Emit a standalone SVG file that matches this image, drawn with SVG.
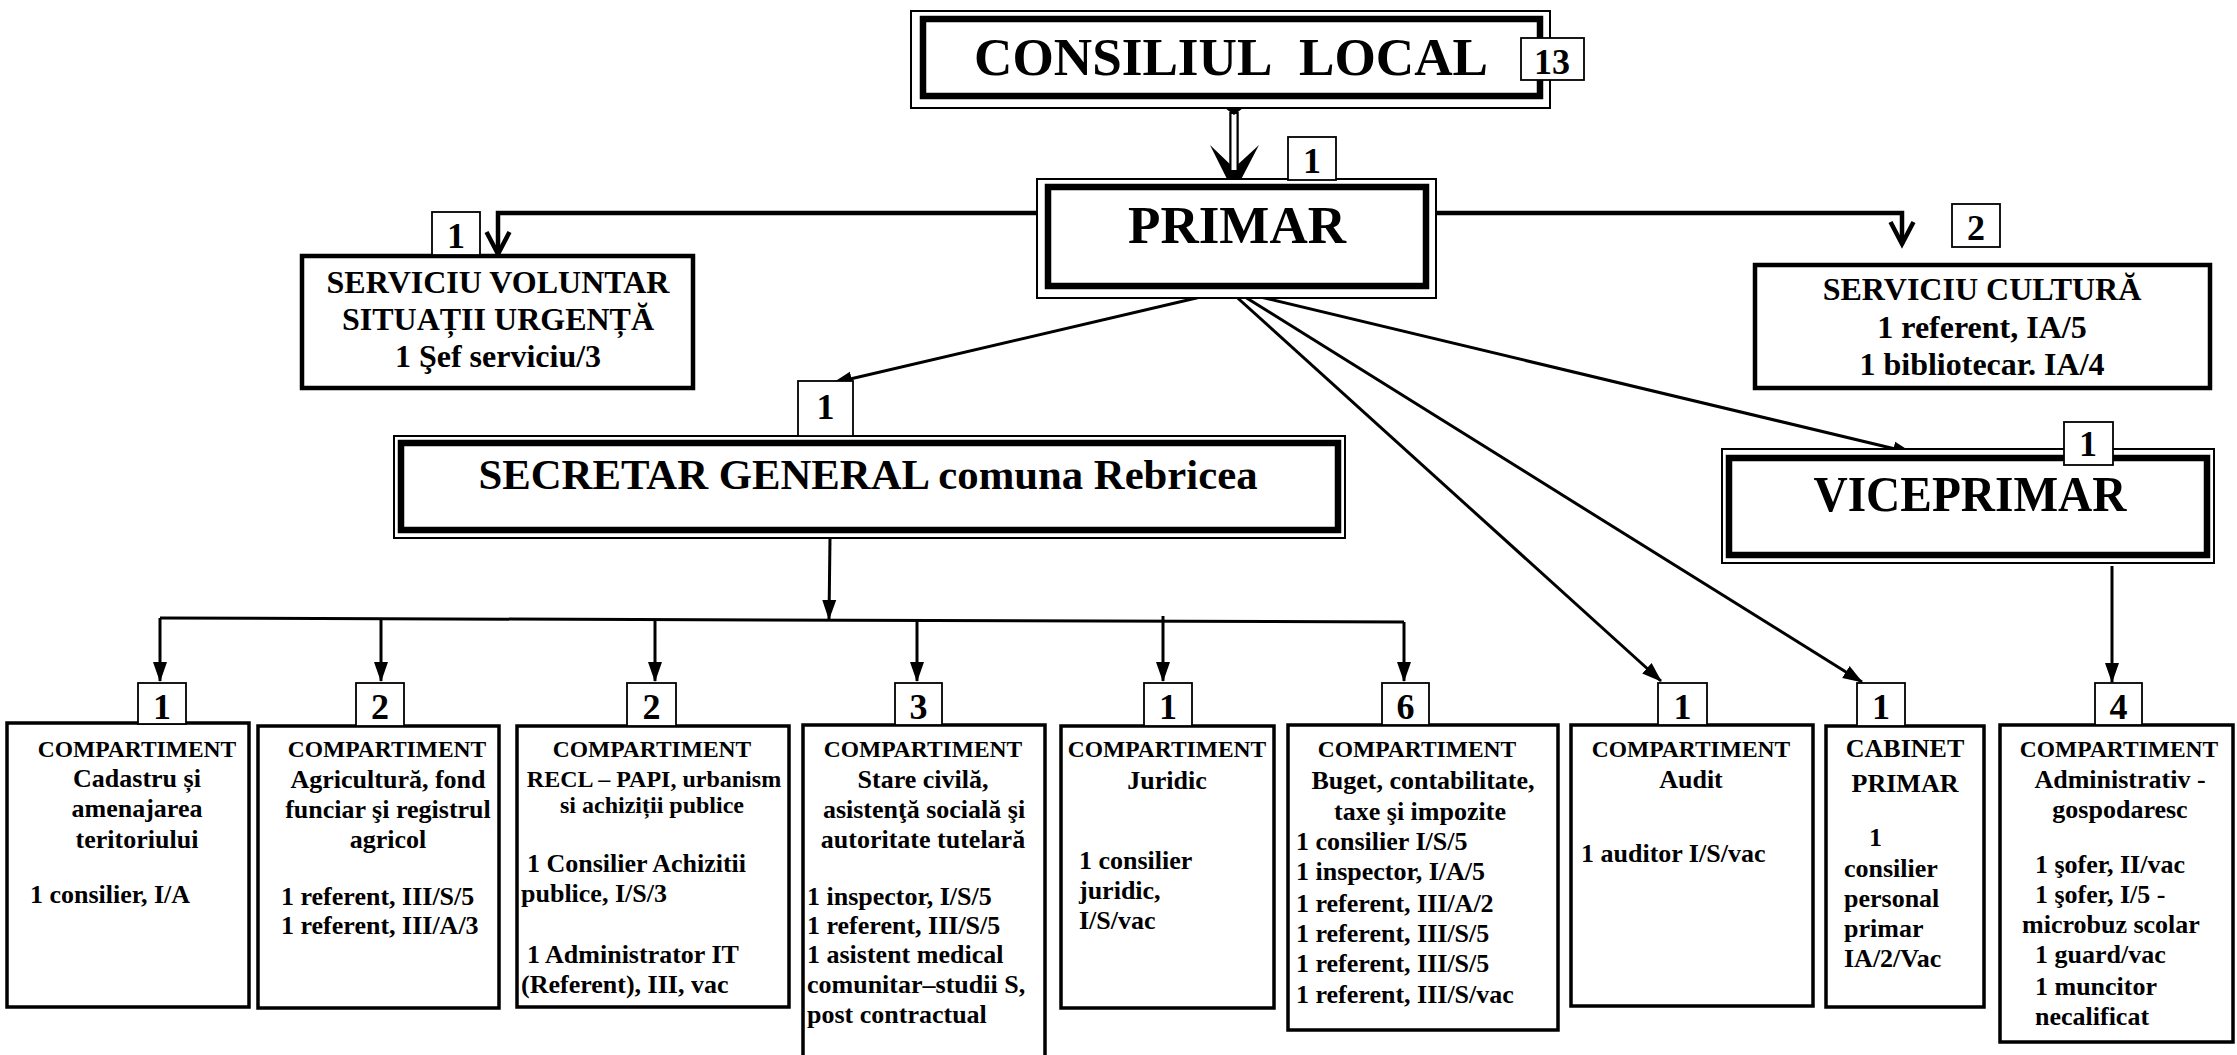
<svg xmlns="http://www.w3.org/2000/svg" width="2237" height="1055" viewBox="0 0 2237 1055">
<style>
.t{font-family:"Liberation Serif","Times New Roman",serif;font-weight:bold;fill:#000}
.c{text-anchor:middle}
.h{font-size:23.5px}
.b{font-size:26px}
.m{font-size:24px}
.s{font-size:32px}
.num{font-size:36px;text-anchor:middle}
.box{fill:#fff;stroke:#000;stroke-width:3.5}
.sbox{fill:#fff;stroke:#000;stroke-width:4.5}
.nb{fill:#fff;stroke:#000;stroke-width:1.8}
.dbo{fill:#fff;stroke:#000;stroke-width:2}
.dbi{fill:none;stroke:#000;stroke-width:6.5}
.ln{fill:none;stroke:#000;stroke-width:3}
.lnb{fill:none;stroke:#000;stroke-width:4.5}
</style>
<defs>
<marker id="ah" markerUnits="userSpaceOnUse" viewBox="0 0 20 16" markerWidth="20" markerHeight="16" refX="19" refY="8" orient="auto">
<path d="M0,1 L20,8 L0,15 z" fill="#000"/>
</marker>
<marker id="vh" markerUnits="userSpaceOnUse" viewBox="-4 -4 34 34" markerWidth="34" markerHeight="34" refX="24" refY="13" orient="auto">
<path d="M2,1.5 L24,13 L2,24.5" fill="none" stroke="#000" stroke-width="4.5"/>
</marker>
</defs>
<rect x="0" y="0" width="2237" height="1055" fill="#fff"/>

<g id="connectors">
<!-- Consiliul local -> Primar -->
<path d="M1210,145 L1234,193 L1259,145 L1234,168 z" fill="#000"/>
<line x1="1234" y1="112" x2="1234" y2="172" stroke="#000" stroke-width="9.5"/>
<line x1="1234" y1="114" x2="1234" y2="170" stroke="#fff" stroke-width="5"/>
<path d="M1225,108 L1234,101 L1243,108 L1234,115 z" fill="#000"/>
<!-- Primar -> SVSU -->
<path class="lnb" d="M1046,213 H498 V254" marker-end="url(#vh)"/>
<!-- Primar -> Serviciu cultura -->
<path class="lnb" d="M1380,213 H1902 V244" marker-end="url(#vh)"/>
<!-- Primar fan -->
<path class="ln" d="M1222,292 L833,383" marker-end="url(#ah)"/>
<path class="ln" d="M1231,292 L1661,681" marker-end="url(#ah)"/>
<path class="ln" d="M1237,292 L1862,682" marker-end="url(#ah)"/>
<path class="ln" d="M1248,294 L1912,453" marker-end="url(#ah)"/>
<!-- Secretar -> bus -->
<path class="ln" d="M830,538 L829,619" marker-end="url(#ah)"/>
<path class="ln" d="M160,618 L1404,622"/>
<path class="ln" d="M160,618 V681" marker-end="url(#ah)"/>
<path class="ln" d="M381,618 V681" marker-end="url(#ah)"/>
<path class="ln" d="M655,619 V681" marker-end="url(#ah)"/>
<path class="ln" d="M917,620 V681" marker-end="url(#ah)"/>
<path class="ln" d="M1163,616 V681" marker-end="url(#ah)"/>
<path class="ln" d="M1404,622 V681" marker-end="url(#ah)"/>
<!-- Viceprimar -> Administrativ -->
<path class="ln" d="M2112,566 V682" marker-end="url(#ah)"/>
</g>

<g id="consiliul-local">
<rect class="dbo" x="911" y="11" width="639" height="97"/>
<rect class="dbi" x="923" y="19" width="617" height="77"/>
<text class="t c" x="1231" y="75" font-size="53" textLength="514" lengthAdjust="spacingAndGlyphs">CONSILIUL&#160; LOCAL</text>
<rect class="nb" x="1521" y="38" width="63" height="42"/>
<text class="t num" x="1552" y="74">13</text>
</g>

<g id="primar">
<rect class="dbo" x="1037" y="179" width="399" height="119"/>
<rect class="dbi" x="1048" y="187" width="378" height="99"/>
<text class="t c" x="1237" y="243" font-size="52" textLength="218" lengthAdjust="spacingAndGlyphs">PRIMAR</text>
<rect class="nb" x="1288" y="137" width="48" height="43"/>
<text class="t num" x="1312" y="173">1</text>
</g>

<g id="serviciu-voluntar">
<rect class="sbox" x="302" y="256" width="391" height="132"/>
<text class="t c s" x="498" y="293">SERVICIU VOLUNTAR</text>
<text class="t c s" x="498" y="330">SITUAȚII URGENȚĂ</text>
<text class="t c s" x="498" y="367">1 Şef serviciu/3</text>
<rect class="nb" x="432" y="212" width="48" height="43"/>
<text class="t num" x="456" y="248">1</text>
</g>

<g id="serviciu-cultura">
<rect class="sbox" x="1755" y="265" width="455" height="123"/>
<text class="t c s" x="1982" y="300">SERVICIU CULTURĂ</text>
<text class="t c s" x="1982" y="338">1 referent, IA/5</text>
<text class="t c s" x="1982" y="375">1 bibliotecar. IA/4</text>
<rect class="nb" x="1952" y="204" width="48" height="43"/>
<text class="t num" x="1976" y="240">2</text>
</g>

<g id="secretar-general">
<rect class="dbo" x="394" y="436" width="951" height="102"/>
<rect class="dbi" x="401" y="443" width="937" height="87"/>
<text class="t c" x="868" y="489" font-size="42" textLength="779" lengthAdjust="spacingAndGlyphs">SECRETAR GENERAL comuna Rebricea</text>
<rect class="nb" x="798" y="381" width="55" height="55"/>
<text class="t num" x="825.5" y="419">1</text>
</g>

<g id="viceprimar">
<rect class="dbo" x="1722" y="449" width="492" height="114"/>
<rect class="dbi" x="1729" y="458" width="478" height="97"/>
<text class="t c" x="1970" y="511" font-size="51" textLength="313" lengthAdjust="spacingAndGlyphs">VICEPRIMAR</text>
<rect class="nb" x="2064" y="422" width="49" height="43"/>
<text class="t num" x="2088" y="456">1</text>
</g>

<g id="comp-cadastru">
<rect class="box" x="7" y="723" width="242" height="284"/>
<rect class="nb" x="138" y="683" width="48" height="41"/>
<text class="t num" x="162" y="719">1</text>
<text class="t c h" x="137" y="757">COMPARTIMENT</text>
<text class="t c b" x="137" y="787">Cadastru și</text>
<text class="t c b" x="137" y="817">amenajarea</text>
<text class="t c b" x="137" y="848">teritoriului</text>
<text class="t b" x="30" y="903">1 consilier, I/A</text>
</g>

<g id="comp-agricultura">
<rect class="box" x="258" y="726" width="241" height="282"/>
<rect class="nb" x="356" y="683" width="48" height="43"/>
<text class="t num" x="380" y="719">2</text>
<text class="t c h" x="387" y="757">COMPARTIMENT</text>
<text class="t c b" x="388" y="788">Agricultură, fond</text>
<text class="t c b" x="388" y="818">funciar şi registrul</text>
<text class="t c b" x="388" y="848">agricol</text>
<text class="t b" x="281" y="905">1 referent, III/S/5</text>
<text class="t b" x="281" y="934">1 referent, III/A/3</text>
</g>

<g id="comp-recl">
<rect class="box" x="517" y="726" width="272" height="281"/>
<rect class="nb" x="627" y="683" width="49" height="43"/>
<text class="t num" x="651.5" y="719">2</text>
<text class="t c h" x="652" y="757">COMPARTIMENT</text>
<text class="t c m" x="654" y="787">RECL – PAPI, urbanism</text>
<text class="t c m" x="652" y="813">si achiziții publice</text>
<text class="t b" x="527" y="872">1 Consilier Achizitii</text>
<text class="t b" x="521" y="902">publice, I/S/3</text>
<text class="t b" x="527" y="963">1 Administrator IT</text>
<text class="t b" x="521" y="993">(Referent), III, vac</text>
</g>

<g id="comp-stare-civila">
<rect class="box" x="803" y="725" width="242" height="340"/>
<rect class="nb" x="895" y="683" width="47" height="42"/>
<text class="t num" x="918.5" y="719">3</text>
<text class="t c h" x="923" y="757">COMPARTIMENT</text>
<text class="t c b" x="923" y="788">Stare civilă,</text>
<text class="t c b" x="924" y="818">asistenţă socială şi</text>
<text class="t c b" x="923" y="848">autoritate tutelară</text>
<text class="t b" x="807" y="905">1 inspector, I/S/5</text>
<text class="t b" x="807" y="934">1 referent, III/S/5</text>
<text class="t b" x="807" y="963">1 asistent medical</text>
<text class="t b" x="807" y="993">comunitar–studii S,</text>
<text class="t b" x="807" y="1023">post contractual</text>
</g>

<g id="comp-juridic">
<rect class="box" x="1061" y="726" width="213" height="282"/>
<rect class="nb" x="1144" y="683" width="48" height="43"/>
<text class="t num" x="1168" y="719">1</text>
<text class="t c h" x="1167" y="757">COMPARTIMENT</text>
<text class="t c b" x="1167" y="789">Juridic</text>
<text class="t b" x="1079" y="869">1 consilier</text>
<text class="t b" x="1079" y="899">juridic,</text>
<text class="t b" x="1079" y="929">I/S/vac</text>
</g>

<g id="comp-buget">
<rect class="box" x="1288" y="725" width="270" height="305"/>
<rect class="nb" x="1382" y="683" width="47" height="42"/>
<text class="t num" x="1405.5" y="719">6</text>
<text class="t c h" x="1417" y="757">COMPARTIMENT</text>
<text class="t c b" x="1423" y="789">Buget, contabilitate,</text>
<text class="t c b" x="1420" y="820">taxe şi impozite</text>
<text class="t b" x="1296" y="850">1 consilier I/S/5</text>
<text class="t b" x="1296" y="880">1 inspector, I/A/5</text>
<text class="t b" x="1296" y="912">1 referent, III/A/2</text>
<text class="t b" x="1296" y="942">1 referent, III/S/5</text>
<text class="t b" x="1296" y="972">1 referent, III/S/5</text>
<text class="t b" x="1296" y="1003">1 referent, III/S/vac</text>
</g>

<g id="comp-audit">
<rect class="box" x="1571" y="725" width="242" height="281"/>
<rect class="nb" x="1658" y="683" width="49" height="42"/>
<text class="t num" x="1682.5" y="719">1</text>
<text class="t c h" x="1691" y="757">COMPARTIMENT</text>
<text class="t c b" x="1691" y="788">Audit</text>
<text class="t b" x="1581" y="862">1 auditor I/S/vac</text>
</g>

<g id="cabinet-primar">
<rect class="box" x="1826" y="726" width="158" height="281"/>
<rect class="nb" x="1857" y="683" width="48" height="43"/>
<text class="t num" x="1881" y="719">1</text>
<text class="t c b" x="1905" y="757">CABINET</text>
<text class="t c b" x="1905" y="792">PRIMAR</text>
<text class="t b" x="1869" y="846">1</text>
<text class="t b" x="1844" y="877">consilier</text>
<text class="t b" x="1844" y="907">personal</text>
<text class="t b" x="1844" y="937">primar</text>
<text class="t b" x="1844" y="967">IA/2/Vac</text>
</g>

<g id="comp-administrativ">
<rect class="box" x="2000" y="725" width="233" height="317"/>
<rect class="nb" x="2095" y="683" width="47" height="42"/>
<text class="t num" x="2118.5" y="719">4</text>
<text class="t c h" x="2119" y="757">COMPARTIMENT</text>
<text class="t c b" x="2120" y="788">Administrativ -</text>
<text class="t c b" x="2120" y="818">gospodaresc</text>
<text class="t b" x="2035" y="873">1 şofer, II/vac</text>
<text class="t b" x="2035" y="903">1 şofer, I/5 -</text>
<text class="t b" x="2022" y="933">microbuz scolar</text>
<text class="t b" x="2035" y="963">1 guard/vac</text>
<text class="t b" x="2035" y="995">1 muncitor</text>
<text class="t b" x="2035" y="1025">necalificat</text>
</g>
</svg>
